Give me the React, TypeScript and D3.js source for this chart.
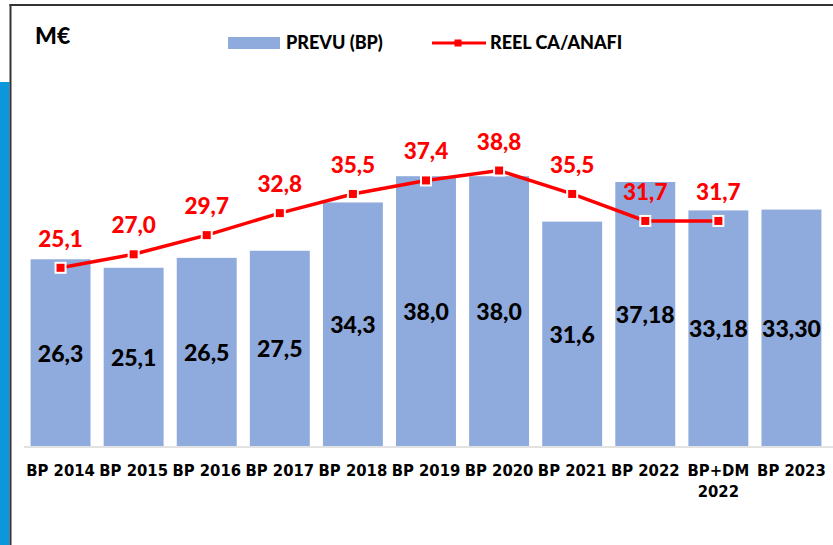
import * as d3 from "d3";

const categories = [
  "BP 2014",
  "BP 2015",
  "BP 2016",
  "BP 2017",
  "BP 2018",
  "BP 2019",
  "BP 2020",
  "BP 2021",
  "BP 2022",
  "BP+DM\n2022",
  "BP 2023",
];
const prevu = [26.3, 25.1, 26.5, 27.5, 34.3, 38.0, 38.0, 31.6, 37.18, 33.18, 33.3];
const prevuLabels = ["26,3", "25,1", "26,5", "27,5", "34,3", "38,0", "38,0", "31,6", "37,18", "33,18", "33,30"];
const reel: (number | null)[] = [25.1, 27.0, 29.7, 32.8, 35.5, 37.4, 38.8, 35.5, 31.7, 31.7, null];

const width = 833,
  height = 545;
const BLUE = "#8FAADC";
const RED = "#FF0000";
const numFont = "Lato, 'Open Sans', sans-serif";

export default function App() {
  const x = d3
    .scaleBand<string>()
    .domain(categories)
    .range([24, 828])
    .paddingInner(0.18)
    .paddingOuter(0.09);
  const y = d3.scaleLinear().domain([0, 50]).range([446, 91]);
  const cx = (i: number) => (x(categories[i]) ?? 0) + x.bandwidth() / 2;

  const pts = reel.map((v, i) => ({ v, i }));
  const line = d3
    .line<{ v: number | null; i: number }>()
    .defined((d) => d.v != null)
    .x((d) => cx(d.i))
    .y((d) => y(d.v as number));

  return (
    <svg
      width={width}
      height={height}
      style={{ position: "absolute", left: 0, top: 0, display: "block", background: "#fff" }}
    >
      {/* frame */}
      <rect x={0} y={82} width={9.5} height={height - 82} fill="#0C97DC" />
      <line x1={9.5} x2={width} y1={5} y2={5} stroke="#333" strokeWidth={2} />
      <line x1={10.5} x2={10.5} y1={4} y2={height} stroke="#333" strokeWidth={2} />

      <text x={35} y={44} fontFamily={numFont} fontWeight={900} fontSize={23} fill="#000">
        M€
      </text>

      {/* legend */}
      <rect x={228} y={37} width={52} height={12} fill={BLUE} />
      <text x={286} y={49} fontFamily={numFont} fontWeight={900} fontSize={18} fill="#000">
        PREVU (BP)
      </text>
      <line x1={432} x2={486} y1={43} y2={43} stroke={RED} strokeWidth={3} />
      <rect x={454.5} y={39.5} width={7} height={7} fill={RED} />
      <text x={490} y={49} fontFamily={numFont} fontWeight={900} fontSize={18} fill="#000">
        REEL CA/ANAFI
      </text>

      {/* bars */}
      {prevu.map((v, i) => (
        <rect
          key={categories[i]}
          x={x(categories[i])}
          y={y(v)}
          width={x.bandwidth()}
          height={y(0) - y(v)}
          fill={BLUE}
        />
      ))}
      <line x1={24} x2={width} y1={447} y2={447} stroke="#D9D9D9" strokeWidth={1.5} />
      {prevu.map((v, i) => (
        <text
          key={"l" + i}
          x={cx(i)}
          y={(y(v) + y(0)) / 2}
          textAnchor="middle"
          dominantBaseline="central"
          fontFamily={numFont}
          fontWeight={900}
          fontSize={23}
          fill="#000"
        >
          {prevuLabels[i]}
        </text>
      ))}

      {/* category labels */}
      {categories.map((c, i) =>
        c.split("\n").map((t, j) => (
          <text
            key={c + j}
            x={cx(i)}
            y={476 + j * 21}
            textAnchor="middle"
            fontFamily="'DejaVu Sans Condensed', sans-serif"
            fontWeight={700}
            fontSize={16.5}
            fill="#000"
          >
            {t}
          </text>
        ))
      )}

      {/* line */}
      <path d={line(pts) ?? ""} fill="none" stroke={RED} strokeWidth={3.5} />
      {pts
        .filter((d) => d.v != null)
        .map((d) => (
          <g key={"m" + d.i}>
            <rect
              x={cx(d.i) - 5}
              y={y(d.v as number) - 5}
              width={10}
              height={10}
              fill={RED}
              stroke="#fff"
              strokeWidth={2}
            />
            <text
              x={cx(d.i)}
              y={y(d.v as number) - 21}
              textAnchor="middle"
              fontFamily={numFont}
              fontWeight={900}
              fontSize={22.5}
              fill={RED}
            >
              {(d.v as number).toFixed(1).replace(".", ",")}
            </text>
          </g>
        ))}
    </svg>
  );
}
